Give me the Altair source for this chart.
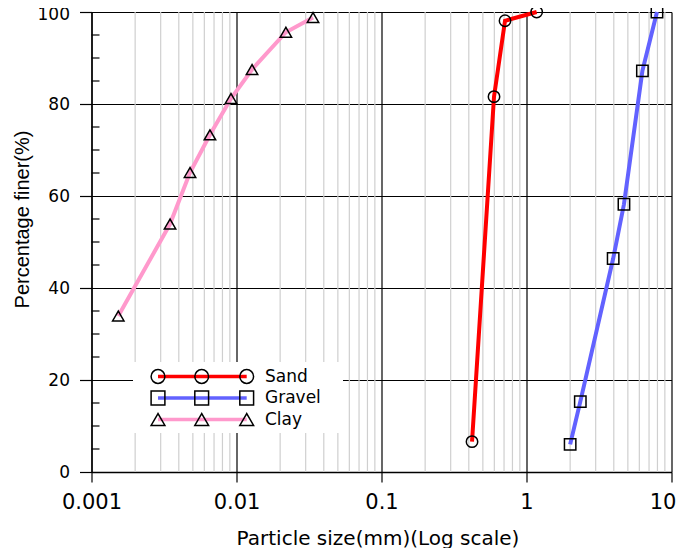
import altair as alt
import pandas as pd

# ---------------- data ----------------
series_names = ["Sand", "Gravel", "Clay"]

sand_x = [0.421, 0.597, 0.711, 1.175]
sand_y = [6.6, 81.6, 98.1, 100.0]

gravel_x = [2.0, 2.35, 3.96, 4.70, 6.30, 7.94]
gravel_y = [6.0, 15.3, 46.4, 58.2, 87.2, 100.0]

clay_x = [0.00153, 0.00348, 0.00478, 0.00656, 0.00916, 0.0128, 0.0219, 0.0337]
clay_y = [33.9, 53.9, 65.1, 73.3, 81.2, 87.5, 95.6, 98.8]

line_colors = ["#ff0000", "#6262ff", "#ff99cc"]
marker_shapes = ["circle", "square", "triangle-up"]

major_x = [0.001, 0.01, 0.1, 1, 10]
major_x_labels = ["0.001", "0.01", "0.1", "1", "10"]
minor_x = [m * d for d in [0.001, 0.01, 0.1, 1] for m in range(2, 10)]
major_y = [0, 20, 40, 60, 80, 100]
minor_y = [v for v in range(5, 100, 5) if v % 20 != 0]

W, H = 580, 460

# ---------------- tables ----------------
rows = []
for name, xs, ys in [("Sand", sand_x, sand_y), ("Gravel", gravel_x, gravel_y), ("Clay", clay_x, clay_y)]:
    for i, (xv, yv) in enumerate(zip(xs, ys)):
        rows.append({"series": name, "size": xv, "finer": yv, "idx": i})
df = pd.DataFrame(rows)

minor_x_df = pd.DataFrame({"v": minor_x})
minor_y_df = pd.DataFrame({"v": minor_y})

label_expr = "''"
for v, l in reversed(list(zip(major_x, major_x_labels))):
    label_expr = f"(abs(datum.value - {v}) < {v * 1e-3}) ? '{l}' : ({label_expr})"

xscale = alt.Scale(type="log", domain=[0.001, 10], nice=False)
yscale = alt.Scale(domain=[0, 100], nice=False)
color_scale = alt.Scale(domain=series_names, range=line_colors)
shape_scale = alt.Scale(domain=series_names, range=marker_shapes)

x_axis = alt.Axis(
    values=major_x, labelExpr=label_expr, grid=True, gridColor="#000000", gridWidth=1.2,
    tickSize=10, tickColor="#000000", tickWidth=1.2, domainColor="#000000", domainWidth=1.4,
    labelFont="DejaVu Sans", labelFontSize=21, labelColor="#000000",
    labelBaseline="alphabetic", labelPadding=26, labelFlush=False, labelOverlap=False,
    labelOffset={"condition": {"test": "datum.value >= 9", "value": -9}, "value": 0},
    title="Particle size(mm)(Log scale)", titleFont="DejaVu Sans", titleFontSize=20,
    titleFontWeight="normal", titleColor="#000000", titleBaseline="alphabetic",
    titleY=72, titleX=286,
)
y_axis = alt.Axis(
    values=major_y, grid=True, gridColor="#000000", gridWidth=1.2,
    tickSize=12, tickColor="#000000", tickWidth=1.2, domainColor="#000000", domainWidth=1.4,
    labelFont="DejaVu Sans", labelFontSize=17, labelColor="#000000", labelPadding=10,
    labelOffset={"condition": {"test": "datum.value >= 99", "value": 2}, "value": 0},
    title="Percentage finer(%)", titleFont="Liberation Sans", titleFontSize=20,
    titleFontWeight="normal", titleColor="#000000", titleAngle=270,
    titleBaseline="alphabetic", titleAlign="center", titleX=-63, titleY=207,
)

base = alt.Chart(df)

minor_grid = alt.Chart(minor_x_df).mark_rule(color="#cfcfcf", strokeWidth=1.2).encode(
    x=alt.X("v:Q", scale=xscale, axis=x_axis),
)
axes_layer = base.mark_point(opacity=0).encode(
    x=alt.X("size:Q", scale=xscale, axis=x_axis),
    y=alt.Y("finer:Q", scale=yscale, axis=y_axis),
)
minor_ticks = alt.Chart(minor_y_df).mark_rule(color="#000000", strokeWidth=1.2).encode(
    y=alt.Y("v:Q", scale=yscale),
    x=alt.value(0), x2=alt.value(8),
)

legend_box = alt.Chart(pd.DataFrame({"k": [0]})).mark_rect(fill="#ffffff").encode(
    x=alt.value(41.5), x2=alt.value(251.5), y=alt.value(350), y2=alt.value(421),
)

lines = base.mark_line(strokeWidth=4).encode(
    x=alt.X("size:Q", scale=xscale),
    y=alt.Y("finer:Q", scale=yscale),
    color=alt.Color("series:N", scale=color_scale, legend=None),
    order="idx:Q",
    detail="series:N",
)
points = base.mark_point(filled=False, stroke="#000000", strokeWidth=1.5, size=130, opacity=1).encode(
    x=alt.X("size:Q", scale=xscale),
    y=alt.Y("finer:Q", scale=yscale),
    shape=alt.Shape("series:N", scale=shape_scale, legend=None),
)

layers = [minor_grid, axes_layer, minor_ticks, legend_box, lines, points]

# custom legend
row_y = [364.5, 386, 407.5]
marker_px = [66.5, 110.2, 155.2]
for name, col, shp, ry in zip(series_names, line_colors, marker_shapes, row_y):
    ldf = pd.DataFrame({"series": [name]})
    layers.append(alt.Chart(ldf).mark_rule(color=col, strokeWidth=3.5).encode(
        x=alt.value(marker_px[0]), x2=alt.value(marker_px[-1]), y=alt.value(ry)))
    for mx in marker_px:
        layers.append(alt.Chart(ldf).mark_point(shape=shp, filled=False, stroke="#000000",
                                                strokeWidth=1.5, size=190, opacity=1).encode(
            x=alt.value(mx), y=alt.value(ry)))
    layers.append(alt.Chart(ldf).mark_text(align="left", baseline="middle", font="DejaVu Sans",
                                           fontSize=17, color="#000000").encode(
        x=alt.value(173.5), y=alt.value(ry), text="series:N"))

chart = alt.layer(*layers).properties(
    width=W, height=H,
    autosize=alt.AutoSizeParams(type="none"),
    padding={"left": 83.5, "top": 4, "right": 5, "bottom": 76},
    background="#ffffff",
).configure_view(strokeWidth=0)

chart.save("out.html", embed_options={"renderer": "svg", "actions": False})
